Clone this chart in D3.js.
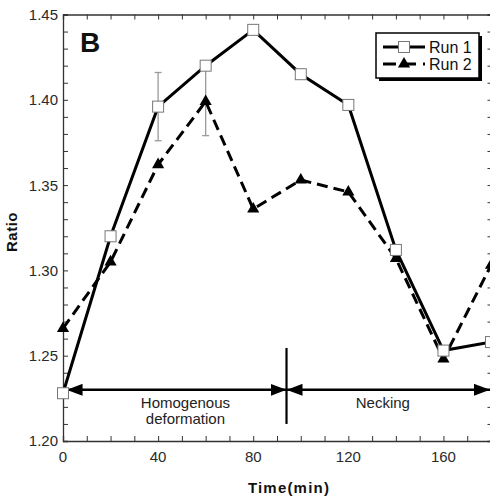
<!DOCTYPE html>
<html>
<head>
<meta charset="utf-8">
<script src="https://cdn.jsdelivr.net/npm/d3@7"></script>
<style>
  html, body { margin: 0; padding: 0; background: #fff; }
  svg { display: block; }
  text { font-family: "Liberation Sans", Arial, Helvetica, sans-serif; fill: #111; }
</style>
</head>
<body>
<svg id="chart" width="490" height="499"></svg>
<script>
// Time points (min) and measured ratios for both runs
const times = [0, 20, 40, 60, 80, 100, 120, 140, 160, 180];
const run1 = [1.228, 1.320, 1.396, 1.420, 1.441, 1.415, 1.397, 1.312, 1.253, 1.258];
const run2 = [1.266, 1.305, 1.362, 1.399, 1.336, 1.353, 1.346, 1.307, 1.248, 1.303];

// Error bars (mean ± sd)
const errTimes = [40, 60];
const errMeans = [1.396, 1.399];
const errSd = [0.020, 0.020];

// Axis ticks
const xTicks = [0, 40, 80, 120, 160];
const yTicks = [1.20, 1.25, 1.30, 1.35, 1.40, 1.45];
const xTickLabels = ["0", "40", "80", "120", "160"];
const yTickLabels = ["1.20", "1.25", "1.30", "1.35", "1.40", "1.45"];

// Phase annotation
const phaseBoundary = 94;       // min, end of homogenous deformation
const phaseArrowY = 1.230;
const phaseMarkTop = 1.2545;
const phaseMarkBottom = 1.210;
const phaseLabels = [
  { t: 51.5, lines: ["Homogenous", "deformation"] },
  { t: 134.5, lines: ["Necking"] }
];

const seriesNames = ["Run 1", "Run 2"];

const svg = d3.select("#chart");

const x = d3.scaleLinear().domain([0, 180]).range([63, 491]);
const y = d3.scaleLinear().domain([1.20, 1.45]).range([441, 14.5]);

const axisColor = "#333";
const tickLen = 5;

// Frame axes with inward ticks, minor ticks every 10 min / 0.01
const xMinor = d3.range(0, 181, 10);
const yMinor = d3.range(0, 26).map(i => +(1.20 + i * 0.01).toFixed(2));

const axisBottomG = svg.append("g").attr("transform", `translate(0,${y(1.20)})`)
  .call(d3.axisBottom(x).tickValues(xMinor).tickSize(-tickLen).tickFormat(""));
const axisTopG = svg.append("g").attr("transform", `translate(0,${y(1.45)})`)
  .call(d3.axisTop(x).tickValues(xMinor).tickSize(-tickLen).tickFormat(""));
const axisLeftG = svg.append("g").attr("transform", `translate(${x(0)},0)`)
  .call(d3.axisLeft(y).tickValues(yMinor).tickSize(-tickLen).tickFormat(""));
const axisRightG = svg.append("g").attr("transform", `translate(${x(180) + 1.5},0)`)
  .call(d3.axisRight(y).tickValues(yMinor).tickSize(-tickLen).tickFormat(""));

[axisBottomG, axisTopG, axisLeftG, axisRightG].forEach(g => {
  g.select(".domain").attr("stroke", axisColor).attr("stroke-width", 1.3);
  g.selectAll(".tick line").attr("stroke", axisColor).attr("stroke-width", 1);
});

// Tick labels
svg.append("g").selectAll("text").data(xTicks).join("text")
  .attr("x", d => x(d)).attr("y", 462)
  .attr("text-anchor", "middle").attr("font-size", 15).style("fill", "#2a2a2a")
  .text((d, i) => xTickLabels[i]);

svg.append("g").selectAll("text").data(yTicks).join("text")
  .attr("x", 58).attr("y", d => y(d)).attr("dy", "0.36em")
  .attr("text-anchor", "end").attr("font-size", 15).style("fill", "#2a2a2a")
  .text((d, i) => yTickLabels[i]);

// Axis titles
svg.append("text")
  .attr("x", 289).attr("y", 493)
  .attr("text-anchor", "middle").attr("font-size", 15).attr("font-weight", "bold")
  .attr("letter-spacing", 1.2)
  .text("Time(min)");

svg.append("text")
  .attr("transform", `translate(17,232) rotate(-90)`)
  .attr("text-anchor", "middle").attr("font-size", 15).attr("font-weight", "bold")
  .attr("letter-spacing", 0.5)
  .text("Ratio");

// Panel letter
svg.append("text")
  .attr("x", 80).attr("y", 52)
  .attr("font-size", 28).attr("font-weight", "bold")
  .text("B");

// Phase annotation: double arrows and boundary mark
const defs = svg.append("defs");
defs.append("marker")
  .attr("id", "arrowHead")
  .attr("viewBox", "0 0 16 12")
  .attr("refX", 16).attr("refY", 6)
  .attr("markerWidth", 16).attr("markerHeight", 12)
  .attr("markerUnits", "userSpaceOnUse")
  .attr("orient", "auto-start-reverse")
  .append("path").attr("d", "M0,0 L16,6 L0,12 Z").attr("fill", "#000");

const annot = svg.append("g");
annot.append("line")
  .attr("x1", x(1.5)).attr("x2", x(phaseBoundary))
  .attr("y1", y(phaseArrowY)).attr("y2", y(phaseArrowY))
  .attr("stroke", "#000").attr("stroke-width", 2.4)
  .attr("marker-start", "url(#arrowHead)").attr("marker-end", "url(#arrowHead)");
annot.append("line")
  .attr("x1", x(phaseBoundary)).attr("x2", x(180) - 1)
  .attr("y1", y(phaseArrowY)).attr("y2", y(phaseArrowY))
  .attr("stroke", "#000").attr("stroke-width", 2.4)
  .attr("marker-start", "url(#arrowHead)").attr("marker-end", "url(#arrowHead)");
annot.append("line")
  .attr("x1", x(phaseBoundary)).attr("x2", x(phaseBoundary))
  .attr("y1", y(phaseMarkTop)).attr("y2", y(phaseMarkBottom))
  .attr("stroke", "#000").attr("stroke-width", 2.2);

phaseLabels.forEach(p => {
  p.lines.forEach((ln, i) => {
    annot.append("text")
      .attr("x", x(p.t)).attr("y", y(phaseArrowY) + 18 + i * 16)
      .attr("text-anchor", "middle").attr("font-size", 15).style("fill", "#222")
      .text(ln);
  });
});

// Error bars
const eb = svg.append("g").attr("stroke", "#9a9a9a").attr("stroke-width", 1.3);
errTimes.forEach((t, i) => {
  const lo = errMeans[i] - errSd[i], hi = errMeans[i] + errSd[i];
  eb.append("line").attr("x1", x(t)).attr("x2", x(t)).attr("y1", y(lo)).attr("y2", y(hi));
  eb.append("line").attr("x1", x(t) - 3.5).attr("x2", x(t) + 3.5).attr("y1", y(lo)).attr("y2", y(lo));
  eb.append("line").attr("x1", x(t) - 3.5).attr("x2", x(t) + 3.5).attr("y1", y(hi)).attr("y2", y(hi));
});

// Series lines
const line = d3.line().x((d, i) => x(times[i])).y(d => y(d));

svg.append("path").datum(run2)
  .attr("d", line).attr("fill", "none")
  .attr("stroke", "#000").attr("stroke-width", 3)
  .attr("stroke-dasharray", "11,6");

svg.append("path").datum(run1)
  .attr("d", line).attr("fill", "none")
  .attr("stroke", "#000").attr("stroke-width", 3);

// Markers
const triangle = d3.symbol().type(d3.symbolTriangle).size(64);
const sq = 11;

svg.append("g").selectAll("path").data(run2).join("path")
  .attr("transform", (d, i) => `translate(${x(times[i])},${y(d)})`)
  .attr("d", triangle).attr("fill", "#000");

svg.append("g").selectAll("rect").data(run1).join("rect")
  .attr("x", (d, i) => x(times[i]) - sq / 2).attr("y", d => y(d) - sq / 2)
  .attr("width", sq).attr("height", sq)
  .attr("fill", "#fff").attr("stroke", "#777").attr("stroke-width", 1);

// Legend with drop shadow
const lg = svg.append("g");
const lx = 376, ly = 33, lw = 103, lh = 45;
lg.append("rect").attr("x", lx + 3).attr("y", ly + 3).attr("width", lw).attr("height", lh).attr("fill", "#000");
lg.append("rect").attr("x", lx).attr("y", ly).attr("width", lw).attr("height", lh)
  .attr("fill", "#fff").attr("stroke", "#000").attr("stroke-width", 1.5);

const legendRows = [
  { name: seriesNames[0], y: 47, dash: null, marker: "square" },
  { name: seriesNames[1], y: 64, dash: "13,7", marker: "triangle" }
];
legendRows.forEach(r => {
  lg.append("line").attr("x1", 383).attr("x2", 425).attr("y1", r.y).attr("y2", r.y)
    .attr("stroke", "#000").attr("stroke-width", 3)
    .attr("stroke-dasharray", r.dash);
  if (r.marker === "square") {
    lg.append("rect").attr("x", 404 - sq / 2).attr("y", r.y - sq / 2)
      .attr("width", sq).attr("height", sq)
      .attr("fill", "#fff").attr("stroke", "#777").attr("stroke-width", 1);
  } else {
    lg.append("path").attr("transform", `translate(404,${r.y})`)
      .attr("d", triangle).attr("fill", "#000");
  }
  lg.append("text").attr("x", 429).attr("y", r.y).attr("dy", "0.36em")
    .attr("font-size", 16).text(r.name);
});
</script>
</body>
</html>
